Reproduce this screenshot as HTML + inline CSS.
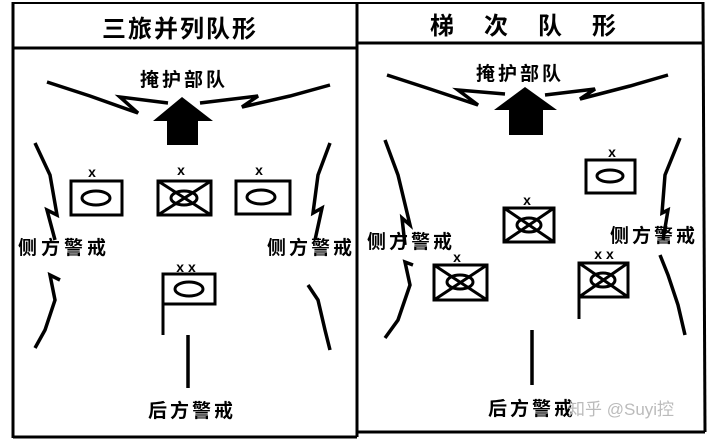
<!DOCTYPE html>
<html><head><meta charset="utf-8"><style>
html,body{margin:0;padding:0;background:#fff;width:720px;height:443px;overflow:hidden}
svg{display:block}
text{font-family:"Liberation Sans","Noto Sans CJK SC",sans-serif;font-weight:bold;fill:#000}
</style></head><body>
<svg width="720" height="443" viewBox="0 0 720 443" xmlns="http://www.w3.org/2000/svg">
<g stroke="#000" fill="none">
<line x1="13" y1="2" x2="13" y2="438" stroke-width="3"/>
<line x1="13" y1="3" x2="703" y2="3" stroke-width="2"/>
<line x1="13" y1="437" x2="357" y2="437" stroke-width="3"/>
<line x1="357" y1="2" x2="357" y2="437" stroke-width="3"/>
<line x1="357" y1="432" x2="705" y2="432" stroke-width="3"/>
<line x1="703" y1="2" x2="705" y2="432" stroke-width="3"/>
<line x1="13" y1="48" x2="357" y2="48" stroke-width="3"/>
<line x1="357" y1="43" x2="703" y2="43" stroke-width="3"/>
</g>
<text x="180" y="37" font-size="24" letter-spacing="2" text-anchor="middle">三旅并列队形</text>
<text x="430" y="34" font-size="24" letter-spacing="30">梯次队形</text>
<text x="140" y="86" font-size="19" letter-spacing="3">掩护部队</text>
<text x="476" y="80" font-size="19" letter-spacing="3">掩护部队</text>

<g stroke="#000" stroke-width="3.5" fill="none" stroke-linejoin="miter">
<polyline points="47,82 90,96 138,113 120,97 168,103"/>
<polyline points="330,85 290,96 242,107 258,96 200,103"/>
<polyline points="35,143 50,175 57,215 47,210 55,240"/>
<polyline points="60,280 50,275 55,300 45,330 35,348"/>
<polyline points="330,143 318,175 313,213 322,208 315,240"/>
<polyline points="308,285 318,300 325,330 330,350"/>
<line x1="188" y1="335" x2="188" y2="388"/>
</g>
<polygon points="182,97 213,121 198,121 198,145 167,145 167,121 153,121" fill="#000"/>
<g stroke="#000" stroke-width="3" fill="none">
<rect x="71" y="181" width="51" height="34"/>
<ellipse cx="96" cy="198" rx="14" ry="7"/>
<rect x="158" y="181" width="53" height="34"/>
<line x1="158" y1="181" x2="211" y2="215"/><line x1="211" y1="181" x2="158" y2="215"/>
<ellipse cx="184" cy="198" rx="13" ry="7"/>
<rect x="236" y="181" width="54" height="33"/>
<ellipse cx="261" cy="197" rx="14" ry="7"/>
<rect x="163" y="274" width="52" height="30"/>
<ellipse cx="189" cy="289" rx="14" ry="7"/>
<line x1="163" y1="274" x2="163" y2="335"/>
</g>
<g font-size="14">
<text x="92" y="177" text-anchor="middle">x</text>
<text x="181" y="175" text-anchor="middle">x</text>
<text x="259" y="175" text-anchor="middle">x</text>
<text x="186" y="272" text-anchor="middle">x x</text>
</g>
<text x="18" y="254" font-size="19" letter-spacing="4">侧方警戒</text>
<text x="267" y="254" font-size="19" letter-spacing="3">侧方警戒</text>
<text x="148" y="417" font-size="19" letter-spacing="3">后方警戒</text>

<g stroke="#000" stroke-width="3.5" fill="none">
<polyline points="387,75 430,89 478,105 458,90 505,94"/>
<polyline points="668,75 630,86 580,99 595,89 545,95"/>
<polyline points="385,140 398,175 410,225 402,218 405,245"/>
<polyline points="413,265 405,262 410,285 398,320 385,338"/>
<polyline points="680,138 665,175 662,213 668,210 663,240"/>
<polyline points="660,255 668,275 678,305 685,335"/>
<line x1="532" y1="330" x2="532" y2="385"/>
</g>
<polygon points="525,87 557,110 543,110 543,135 509,135 509,110 494,110" fill="#000"/>
<g stroke="#000" stroke-width="3" fill="none">
<rect x="586" y="160" width="49" height="33"/>
<ellipse cx="610" cy="176" rx="13" ry="6"/>
<rect x="504" y="208" width="50" height="34"/>
<line x1="504" y1="208" x2="554" y2="242"/><line x1="554" y1="208" x2="504" y2="242"/>
<ellipse cx="529" cy="225" rx="12" ry="7"/>
<rect x="434" y="265" width="53" height="35"/>
<line x1="434" y1="265" x2="487" y2="300"/><line x1="487" y1="265" x2="434" y2="300"/>
<ellipse cx="460" cy="282" rx="13" ry="7"/>
<rect x="579" y="263" width="49" height="34"/>
<line x1="579" y1="263" x2="628" y2="297"/><line x1="628" y1="263" x2="579" y2="297"/>
<ellipse cx="603" cy="280" rx="12" ry="7"/>
<line x1="579" y1="263" x2="579" y2="319"/>
</g>
<g font-size="14">
<text x="612" y="157" text-anchor="middle">x</text>
<text x="527" y="205" text-anchor="middle">x</text>
<text x="457" y="262" text-anchor="middle">x</text>
<text x="604" y="259" text-anchor="middle">x x</text>
</g>
<text x="367" y="248" font-size="19" letter-spacing="3">侧方警戒</text>
<text x="610" y="242" font-size="19" letter-spacing="3">侧方警戒</text>
<text x="488" y="415" font-size="19" letter-spacing="3">后方警戒</text>
<text x="568" y="415" font-size="17" style="font-weight:normal;fill:#bbb">知乎 @Suyi控</text>
</svg>
</body></html>
